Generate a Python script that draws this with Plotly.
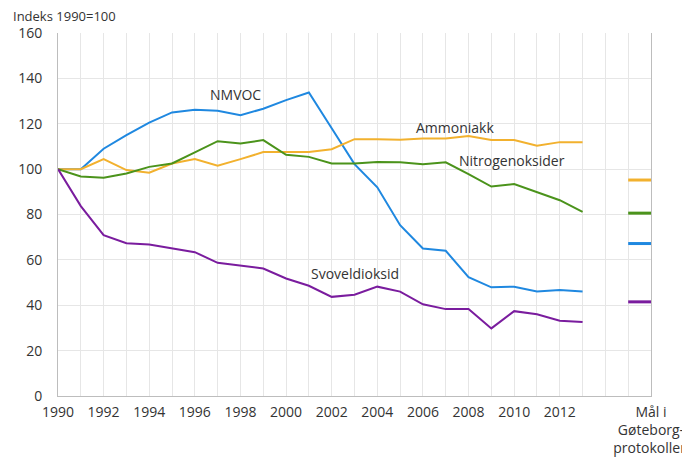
import plotly.graph_objects as go

years = list(range(1990, 2014))
nmvoc = [100, 100, 109, 115, 120.5, 125, 126.2, 125.7, 123.8, 126.6, 130.4, 133.8,
         118, 102.2, 92, 75.3, 65, 64, 52.4, 47.9, 48.2, 46.1, 46.7, 46.1]
ammoniakk = [100, 100, 104.4, 99.6, 98.4, 102.5, 104.4, 101.5, 104.4, 107.5, 107.5, 107.5,
             108.8, 113.2, 113.2, 113, 113.5, 113.5, 114.6, 112.8, 112.8, 110.3, 111.9, 111.9]
nitrogen = [100, 96.8, 96.2, 98.1, 101, 102.5, 107.4, 112.3, 111.3, 112.8, 106.3, 105.4,
            102.5, 102.5, 103.1, 103, 102.2, 103, 97.8, 92.3, 93.4, 89.7, 86.3, 81.2]
svovel = [100, 83.7, 70.9, 67.3, 66.8, 65, 63.4, 58.7, 57.3, 56.2, 51.8, 48.6,
          43.7, 44.6, 48.2, 46, 40.4, 38.3, 38.3, 29.8, 37.4, 36, 33.2, 32.6]

series_names = ["NMVOC", "Ammoniakk", "Nitrogenoksider", "Svoveldioksid"]
series_values = [nmvoc, ammoniakk, nitrogen, svovel]
targets = [67.2, 95.2, 80.6, 41.5]
colors = ["#1F88E0", "#F2B12E", "#4B931B", "#7A1C9E"]

label_x = [1997.8, 2007.4, 2009.9, 2003.0]
label_y = [133, 118.5, 104, 54.2]

target_cat = 2016
target_label = "Mål i<br>Gøteborg-<br>protokollen"
tick_years = list(range(1990, 2013, 2))

fig = go.Figure()
for name, vals, col in zip(series_names, series_values, colors):
    fig.add_trace(go.Scatter(x=years, y=vals, mode="lines", name=name,
                             line=dict(color=col, width=2), showlegend=False,
                             hoverinfo="skip"))
for t, col in zip(targets, colors):
    fig.add_trace(go.Scatter(x=[target_cat - 1, target_cat], y=[t, t], mode="lines",
                             line=dict(color=col, width=3), showlegend=False,
                             hoverinfo="skip"))

for name, lx, ly in zip(series_names, label_x, label_y):
    fig.add_annotation(x=lx, y=ly, text=name, showarrow=False,
                       font=dict(family="Open Sans", size=14, color="#333333"))

fig.add_annotation(xref="paper", yref="paper", x=-0.08, y=1.0, yshift=17,
                   xanchor="left", yanchor="middle", text="Indeks 1990=100",
                   showarrow=False, font=dict(family="Open Sans", size=13, color="#333333"))

fig.update_layout(
    width=690, height=458,
    margin=dict(l=50, r=47, t=25, b=70, autoexpand=False),
    plot_bgcolor="white", paper_bgcolor="white",
    font=dict(family="Open Sans", size=14, color="#333333"),
    xaxis=dict(range=[1990, 2016], tickmode="array",
               tickvals=tick_years + [target_cat],
               ticktext=[str(y) for y in tick_years] + [target_label],
               showgrid=False, showline=True, linecolor="#BDBDBD", linewidth=1,
               mirror=False, zeroline=False, ticks="", automargin=False,
               ticklabelstandoff=3,
               minor=dict(dtick=1, tick0=1990, showgrid=True, gridcolor="#E6E6E6", gridwidth=1),
               tickfont=dict(size=14, color="#333333")),
    yaxis=dict(range=[0, 160], dtick=20, showgrid=True, gridcolor="#E6E6E6",
               showline=True, linecolor="#BDBDBD", linewidth=1, mirror=True,
               zeroline=False, ticks="", ticklabelstandoff=12, automargin=False,
               tickfont=dict(size=14, color="#333333")),
)

fig.write_html("out.html")
